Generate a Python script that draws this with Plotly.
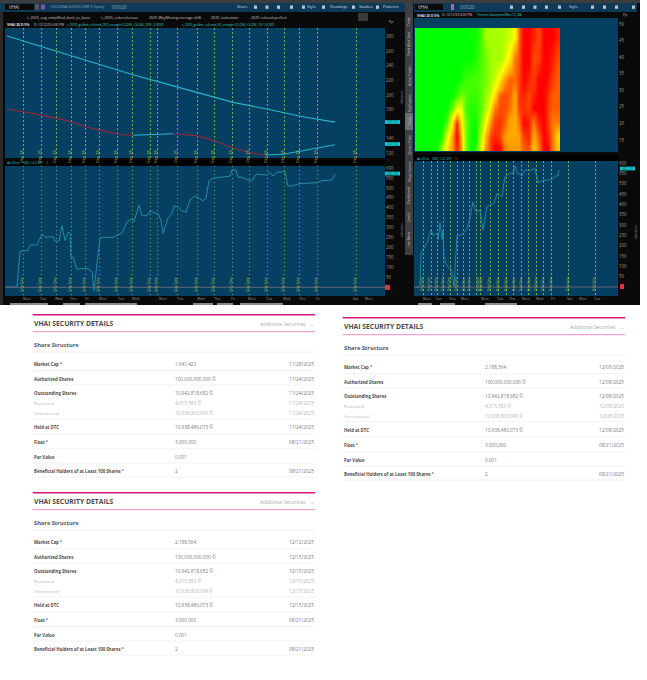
import plotly.graph_objects as go

W, H = 647, 680

# ---------- chart data ----------
left_day_lines = [6, 23, 41, 56, 71, 85, 99, 117, 132, 150, 157, 177, 197, 214, 232, 249, 267, 284, 299, 317, 356]
left_days = ["Mon", "Tue", "Wed", "Thu", "Fri", "Mon", "Tue", "Wed", "Mon", "Tue", "Wed", "Thu", "Fri", "Mon", "Tue", "Wed", "Thu", "Fri", "Sat", "Mon"]
left_day_x = [27, 43, 59, 73, 87, 103, 121, 136, 163, 180, 201, 217, 233, 252, 269, 287, 302, 318, 356, 369]

sma200_x = [7, 33, 67, 100, 133, 167, 200, 233, 267, 300, 335]
sma200_y = [281, 270, 255, 241, 228, 215, 202, 190, 181, 171, 163]
sma50a_x = [7, 33, 67, 87, 107, 120, 133]
sma50a_y = [181, 175, 165, 156, 150, 146, 145]
sma50b_x = [133, 173]
sma50b_y = [145, 147]
sma50c_x = [173, 197, 213, 230, 247, 265]
sma50c_y = [147, 144.5, 138, 129, 122, 118]
sma50d_x = [265, 283, 300, 317, 335]
sma50d_y = [118, 119, 123, 127, 132]

acc_x = [6, 17, 20, 23, 28, 30, 37, 42, 45, 53, 55, 59, 62, 65, 68, 70, 71, 73, 77, 87, 92, 94, 97, 100, 103, 112, 122, 127, 132, 134, 139, 142, 147, 150, 158, 161, 163, 168, 172, 174, 178, 182, 186, 190, 195, 203, 206, 209, 213, 230, 232, 236, 238, 242, 247, 252, 256, 267, 270, 273, 277, 285, 288, 292, 300, 317, 322, 332, 335]
acc_y = [0, 3, 180, 185, 185, 213, 213, 268, 252, 255, 233, 233, 310, 235, 277, 272, 151, 151, 91, 96, 79, -18, 121, 247, 253, 250, 272, 331, 344, 331, 414, 361, 361, 384, 369, 339, 272, 347, 372, 409, 406, 384, 379, 440, 460, 436, 448, 537, 549, 560, 591, 591, 554, 554, 544, 535, 569, 565, 579, 560, 579, 582, 510, 510, 522, 527, 537, 540, 570]

right_day_lines = [415, 423, 431, 437, 443, 450, 457, 463, 469, 476, 480, 490, 498, 506, 513, 521, 528, 536, 543, 551, 568, 595]
right_label_lines = [421, 428, 435, 442, 448, 455, 463, 468, 477, 480, 488, 497, 505, 513, 520, 528, 535, 542, 550, 567, 593]
right_days = ["Mon", "Tue", "Thu", "Mon", "Mon", "Tue", "Thu", "Mon", "Wed", "Fri", "Sat", "Mon", "Tue"]
right_day_x = [427, 438, 452, 465, 485, 500, 512, 526, 540, 553, 570, 583, 597]

racc_x = [416, 420, 421, 423, 427, 431, 433, 438, 438, 440, 442, 443, 444, 447, 451, 454, 457, 463, 467, 470, 473, 476, 480, 483, 487, 490, 494, 497, 502, 505, 510, 513, 515, 517, 522, 525, 532, 535, 538, 543, 552, 555, 558, 559]
racc_y = [0, 0, 163, 179, 215, 276, 252, 260, 227, 311, 231, 276, 147, 98, 90, 2, 247, 256, 284, 332, 413, 365, 373, 276, 389, 397, 405, 453, 437, 534, 550, 550, 585, 553, 537, 566, 566, 574, 505, 515, 521, 537, 537, 566]

heat_edges_y = [11.7, 14, 18, 22.5, 26.5, 30.5, 36, 43.5, 48.8]
heat_row_12 = [0, 0, 0, 0, 0, .25, .55, .72, .95, .75, .2, .02, .05, .4, .75, .9, 1, 1, .8, .75, .75, .75, .85, .88, .65, .8, 1, 1, .8, .65]
heat_row_16 = [0, 0, 0, 0, 0, .05, .4, .7, 1, .7, .2, .02, 0, .3, .7, .88, .95, .9, .75, .72, .72, .75, .9, .95, .7, .85, 1, .95, .8, .6]
heat_row_20 = [0, 0, 0, 0, 0, 0, .1, .5, .95, .55, .2, .05, .02, .2, .5, .75, .9, .92, .85, .72, .7, .82, 1, .95, .8, .95, 1, .9, .8, .8]
heat_row_25 = [0, 0, 0, 0, 0, 0, 0, .15, .42, .45, .12, .05, .08, .15, .3, .55, .8, .88, .88, .82, .72, .9, .92, .9, 1, 1, 1, .9, .85, .85]
heat_row_28 = [0, 0, 0, 0, 0, 0, 0, 0, .1, .22, .15, .1, .1, .15, .25, .4, .6, .85, .88, .85, .72, .92, .95, .88, .95, 1, 1, .92, .85, .85]
heat_row_33 = [0, 0, 0, 0, 0, 0, 0, 0, 0, .03, .1, .12, .12, .15, .2, .28, .38, .55, .75, .85, .82, .9, 1, .95, .9, 1, 1, .98, .9, .85]
heat_row_39 = [0, 0, 0, 0, 0, 0, 0, 0, 0, 0, 0, 0, .05, .12, .2, .28, .3, .28, .4, .55, .8, .88, 1, 1, .88, .9, 1, 1, .95, .88]
heat_row_48 = [0, 0, 0, 0, 0, 0, 0, 0, 0, 0, 0, .02, .02, .1, .3, .3, .3, .3, .33, .38, .5, .85, 1, 1, .95, .88, 1, 1, 1, .95]

upper_left_ticks = [120, 140, 180, 200, 220, 240, 260, 280]
lower_ticks = [50, 100, 150, 200, 250, 300, 350, 400, 450, 500, 550, 600]
heat_ticks = [15, 20, 25, 30, 35, 40, 45, 50]

side_tabs = ["Trade", "Fixed Alert Save", "Active Trader", "Big Buttons", "Chart", "Option Chain", "Phase Scores", "Dashboard", "Level2", "Live News"]
side_tab_y = [22, 44, 76, 103, 121, 145, 172, 196, 217, 239]

# ---------- table data ----------
row_labels = ["Market Cap", "Authorized Shares", "Outstanding Shares", "Restricted", "Unrestricted", "Held at DTC", "Float", "Par Value", "Beneficial Holders of at Least 100 Shares"]
row_values = ["", "100,000,000,000", "10,942,818,682", "4,015,583", "10,938,803,099", "10,938,486,073", "3,000,000", "0.001", "2"]
row_marks = ["", " ©", " ©", " ©", " ©", " ©", "", "", ""]
row_notes = [" °", "", "", "", "", "", " °", "", " °"]
cap_values = ["1,641,423", "2,188,564", "2,188,564"]
table_dates_a = ["11/28/2025", "11/24/2025", "11/24/2025", "11/24/2025", "11/24/2025", "11/24/2025", "08/21/2025", "", "08/21/2025"]
table_dates_b = ["12/12/2025", "12/15/2025", "12/15/2025", "12/15/2025", "12/15/2025", "12/15/2025", "08/21/2025", "", "08/21/2025"]
table_dates_c = ["12/05/2025", "12/08/2025", "12/08/2025", "12/08/2025", "12/08/2025", "12/08/2025", "08/21/2025", "", "08/21/2025"]

# ---------- layout helpers ----------
px = lambda p: p / W
py = lambda p: 1 - p / H
shapes, ann = [], []


def rect(x0, y0, x1, y1, color):
    shapes.append(dict(type="rect", xref="paper", yref="paper", x0=px(x0), x1=px(x1), y0=py(y0), y1=py(y1),
                       fillcolor=color, line_width=0, layer="below"))


def hline(x0, x1, y, color, w):
    shapes.append(dict(type="line", xref="paper", yref="paper", x0=px(x0), x1=px(x1), y0=py(y), y1=py(y),
                       line=dict(color=color, width=w), layer="below"))


def text(x, y, s, size=4.5, color="#bbbbbb", anchor="left", angle=0, bold=False, family="Open Sans"):
    ann.append(dict(xref="paper", yref="paper", x=px(x), y=py(y), text=f"<b>{s}</b>" if bold else s, showarrow=False,
                    xanchor=anchor, yanchor="middle", textangle=angle, borderpad=0,
                    font=dict(size=size, color=color, family=family)))


# ---------- platform chrome ----------
NAVY = "#053f62"
rect(0, 0, 640, 305, "#0a0a0a")
rect(0, 0, 640, 3, "#3c3c3c")
rect(0, 3, 405, 12, "#0e3a58")
rect(414, 3, 637, 12, "#0e3a58")
rect(0, 12, 3, 305, "#2a2a2a")
rect(405, 3, 413, 255, "#3b3f44")
rect(405, 113, 413, 130, "#6a6e72")
rect(5, 28, 385, 158, NAVY)
rect(5, 165.7, 385, 296, NAVY)
rect(414, 18, 618, 152, NAVY)
rect(414, 161, 618, 296, NAVY)
rect(5, 160, 385, 165.5, "#000000")

# toolbar controls
rect(5, 4, 34, 10, "#0a0a0a")
rect(35, 4, 39, 10, "#555555")
rect(41, 4.5, 45, 9.5, "#7a5aa8")
rect(415, 4, 443, 10, "#0a0a0a")
rect(451, 4, 454, 10, "#b060b8")
for ix in [254, 265.5, 277, 290, 302, 322, 352, 376, 510, 522, 533.5, 545, 558, 591, 603, 615, 632]:
    rect(ix, 5.5, ix + 3, 8.8, "#b9c6cf")

text(8, 7, "VHAI", 4.5, "#dddddd")
text(50, 7, "VOCODIA HLDGS CORP E Equity", 3.6, "#8fa7b8")
text(110, 7, ".00020", 5, "#8fa7b8")
for bx, lab in zip([236, 306, 329, 358, 382], ["Share", "Style", "Drawings", "Studies", "Patterns"]):
    text(bx, 7, lab, 4.0, "#d5dde3")
for bx, lab in zip([26, 100, 148, 210, 250],
                   ["c_2025_aug_simplified_back_to_basic", "c_2025_colored areas", "2025 WayMoving average shift", "2025 evaluation", "2025 colored perfect"]):
    text(bx, 17, lab, 3.7, "#cccccc")
rect(358, 13, 368, 21, "#3a3a3a")
text(6, 25, "VHAI 20 D 5%", 3.4, "#e0e0e0", bold=True)
text(33, 25, "D: 12/12/25 4:00 PM", 3.2, "#cccccc")
text(66, 25, "c_2025_golden_colored_200_triangle (CLOSE, CLOSE, 200) -0.0002", 3.2, "#2fd4cf")
text(181, 25, "c_2025_golden_colored_50_triangle (CLOSE, CLOSE, 50) -0.0001", 3.2, "#2fd4cf")
text(6, 162.5, "AccDist", 3.6, "#2fd4cf")
text(22, 162.5, "566,122.291", 3.6, "#2fd4cf")
text(45, 162.5, "0", 3.6, "#e04848")
rect(414, 155, 618, 161, "#000000")
text(416, 158, "AccDist", 3.6, "#2fd4cf")
text(431, 158, "566,122.291", 3.6, "#2fd4cf")
text(454, 158, "0", 3.6, "#e04848")
text(417, 7, "VHAI", 4.5, "#dddddd")
text(458, 7, ".00020", 5, "#8fa7b8")
for bx, lab in zip([568], ["Style"]):
    text(bx, 7, lab, 4.0, "#d5dde3")
text(416, 15, "VHAI 20 D 5%", 3.4, "#e0e0e0", bold=True)
text(441, 15, "D: 12/12/25 4:00 PM", 3.2, "#cccccc")
text(476, 15, "Thermo Sweepline(Min:12, 48)", 3.2, "#2fd4cf")

for tab, ty in zip(side_tabs, side_tab_y):
    text(409, ty, tab, 3.3, "#c9c9c9", "center", -90)
text(402, 97, "-indicators-", 3, "#888888", "center", -90)
text(402, 230, "-indicators-", 3, "#888888", "center", -90)
text(636, 232, "-indicators-", 3, "#888888", "center", -90)

# cut-off strip at the foot of the screenshot
for a, b in [(10, 48), (63, 80), (85, 115), (115, 137), (193, 213), (217, 233), (240, 283), (418, 432), (440, 455), (485, 517)]:
    rect(a, 303, b, 305, "#8a8a8a")

# ---------- tables ----------
ROW_DY = [49.3, 64, 78.3, 88.3, 98, 112.3, 127.3, 142, 156.3]
RULE_DY = [37.3, 56, 70.3, 104.3, 119, 134, 148.3, 162.3]


def table(x0, top, cap, dates):
    x1 = x0 + 282.5
    hline(x0, x1, top, "#d6177e", 1.5)
    text(x0, top + 9, "VHAI SECURITY DETAILS", 6.8, "#4a4a4f", bold=True)
    text(x1 - 8.3, top + 9, "Additional Securities", 4.8, "#a8a8a8", "right")
    text(x1, top + 9, "⌄", 5, "#a8a8a8", "right")
    hline(x0, x1, top + 17, "#ea6fb3", 0.8)
    text(x0, top + 30, "Share Structure", 5.7, "#55555a", bold=True)
    for r in RULE_DY:
        hline(x0, x1, top + r, "#ececec", 0.7)
    for i, lab in enumerate(row_labels):
        muted = lab in ("Restricted", "Unrestricted")
        c_lab = "#b4b4b4" if muted else "#4d4d52"
        c_val = "#b4b4b4" if muted else "#7a7a7e"
        y = top + ROW_DY[i]
        text(x0, y, lab + row_notes[i], 4.3, c_lab, bold=not muted)
        val = cap if i == 0 else row_values[i]
        text(x0 + 141.3, y, val + row_marks[i], 4.7, c_val)
        if dates[i]:
            text(x1, y, dates[i], 4.7, c_val, "right")


table(32.7, 314.7, cap_values[0], table_dates_a)
table(32.7, 492.7, cap_values[1], table_dates_b)
table(342.7, 317.7, cap_values[2], table_dates_c)

# ---------- traces ----------
fig = go.Figure()
CY = "#2bb4c8"
RD = "#8f2a3c"
for xs, ys, c, nm in [(sma200_x, sma200_y, CY, "200"), (sma50a_x, sma50a_y, RD, "50"), (sma50b_x, sma50b_y, CY, "50"),
                      (sma50c_x, sma50c_y, RD, "50"), (sma50d_x, sma50d_y, CY, "50")]:
    fig.add_trace(go.Scatter(x=xs, y=ys, mode="lines", name=nm, line=dict(color=c, width=1.1), xaxis="x", yaxis="y"))
fig.add_trace(go.Scatter(x=acc_x, y=acc_y, mode="lines", name="AccDist", line=dict(color="#2a9fba", width=0.8), xaxis="x2", yaxis="y2"))
fig.add_trace(go.Scatter(x=[5, 385], y=[0, 0], mode="lines", name="zero", line=dict(color="#6b6478", width=1), xaxis="x2", yaxis="y2"))
fig.add_trace(go.Heatmap(
    z=[heat_row_12, heat_row_16, heat_row_20, heat_row_25, heat_row_28, heat_row_33, heat_row_39, heat_row_48],
    x0=0, dx=1, y=heat_edges_y, zmin=0, zmax=1, zsmooth="best", showscale=False,
    colorscale=[[0, "#00ff00"], [.25, "#90ff00"], [.5, "#ffff00"], [.75, "#ff9a00"], [1, "#ff0000"]],
    xaxis="x3", yaxis="y3"))
fig.add_trace(go.Scatter(x=racc_x, y=racc_y, mode="lines", name="AccDist", line=dict(color="#2a9fba", width=0.7), xaxis="x4", yaxis="y4"))
fig.add_trace(go.Scatter(x=[414, 618], y=[0, 0], mode="lines", name="zero", line=dict(color="#6b6478", width=1), xaxis="x4", yaxis="y4"))


def grid_axis(lines, rng, dom, anchor):
    return dict(domain=dom, range=rng, tickvals=lines, showticklabels=False, ticks="", showgrid=True, griddash="1.5px,2.5px",
                gridcolor="#84a84a", gridwidth=0.6, zeroline=False, showline=False, anchor=anchor, fixedrange=True)


def value_axis(vals, rng, dom, anchor):
    return dict(domain=dom, range=rng, tickvals=vals, side="right", showgrid=False, zeroline=False, anchor=anchor,
                ticks="", tickfont=dict(size=4.4, color="#9a9a9a", family="Open Sans"), fixedrange=True)


# axis ranges are chosen from the tick positions of the picture
yr_upper = [280 - (158 - 36.7) / 14.6 * 20, 280 + (36.7 - 28) / 14.6 * 20]
yr_lower = [(287.3 - 296) / 9.93 * 50, (287.3 - 165.7) / 9.93 * 50]
yr_heat = [15 - (152 - 140) / 3.314, 50 + (24 - 18) / 3.314]
yr_rlow = [(287 - 296) / 10.33 * 50, (287 - 161) / 10.33 * 50]
cell = 145 / 30

fig.update_layout(
    width=W, height=H, autosize=False, margin=dict(l=0, r=0, t=0, b=0), paper_bgcolor="#ffffff", plot_bgcolor="rgba(0,0,0,0)",
    showlegend=False,
    xaxis=grid_axis(left_day_lines, [5, 385], [px(5), px(385)], "y"),
    yaxis=value_axis(upper_left_ticks, yr_upper, [py(158), py(28)], "x"),
    xaxis2=grid_axis(left_day_lines, [5, 385], [px(5), px(385)], "y2"),
    yaxis2=value_axis(lower_ticks, yr_lower, [py(296), py(165.7)], "x2"),
    xaxis3=dict(domain=[px(414), px(618)], range=[-0.5 - 1 / cell, -0.5 + 203 / cell], showticklabels=False, showgrid=False,
                zeroline=False, anchor="y3", fixedrange=True),
    yaxis3=value_axis(heat_ticks, yr_heat, [py(152), py(18)], "x3"),
    xaxis4=grid_axis(right_day_lines, [414, 618], [px(414), px(618)], "y4"),
    yaxis4=value_axis(lower_ticks, yr_rlow, [py(296), py(161)], "x4"),
)

# rotated session labels beside each day line
LIME = "#b4c94a"
for xv in left_day_lines[1:]:
    ann.append(dict(xref="x", yref="paper", x=xv - 1.7, y=py(147), text="Dec 25", textangle=-90, showarrow=False,
                    font=dict(size=4.2, color=LIME, family="Open Sans")))
for xv in left_day_lines[1:]:
    for yp in (281, 288.5):
        ann.append(dict(xref="x2", yref="paper", x=xv - 1.7, y=py(yp), text="Dec", textangle=-90, showarrow=False,
                        font=dict(size=4.2, color=LIME, family="Open Sans")))
for xv in right_label_lines:
    for yp in (281, 288.5):
        ann.append(dict(xref="x4", yref="paper", x=xv, y=py(yp), text="Dec", textangle=-90, showarrow=False,
                        font=dict(size=4.2, color=LIME, family="Open Sans")))

for lab, xv in zip(left_days, left_day_x):
    text(xv, 298.5, lab, 3.6, "#9a9a9a", "center")
for lab, xv in zip(right_days, right_day_x):
    text(xv, 298.5, lab, 3.6, "#9a9a9a", "center")


def tag(x0, y, s):
    rect(x0, y - 1.9, x0 + 15, y + 1.9, "#16c7cf")
    text(x0 + 7.5, y, s, 3.0, "#0a4a55", "center")


tag(385, 122, "163.161")
tag(385, 144, "132.131")
tag(385, 173.5, "566.122")
tag(620, 168.5, "566.122")
rect(385, 285, 390, 290, "#d9343f")
rect(620, 284, 624, 289, "#d9343f")
text(388, 21, "Fp", 4, "#bbbbbb")
text(622, 14, "Fp", 4, "#bbbbbb")

fig.update_layout(annotations=ann, shapes=shapes)
fig.write_html("out.html", config=dict(displayModeBar=False), post_script="document.body.style.margin='0';")
